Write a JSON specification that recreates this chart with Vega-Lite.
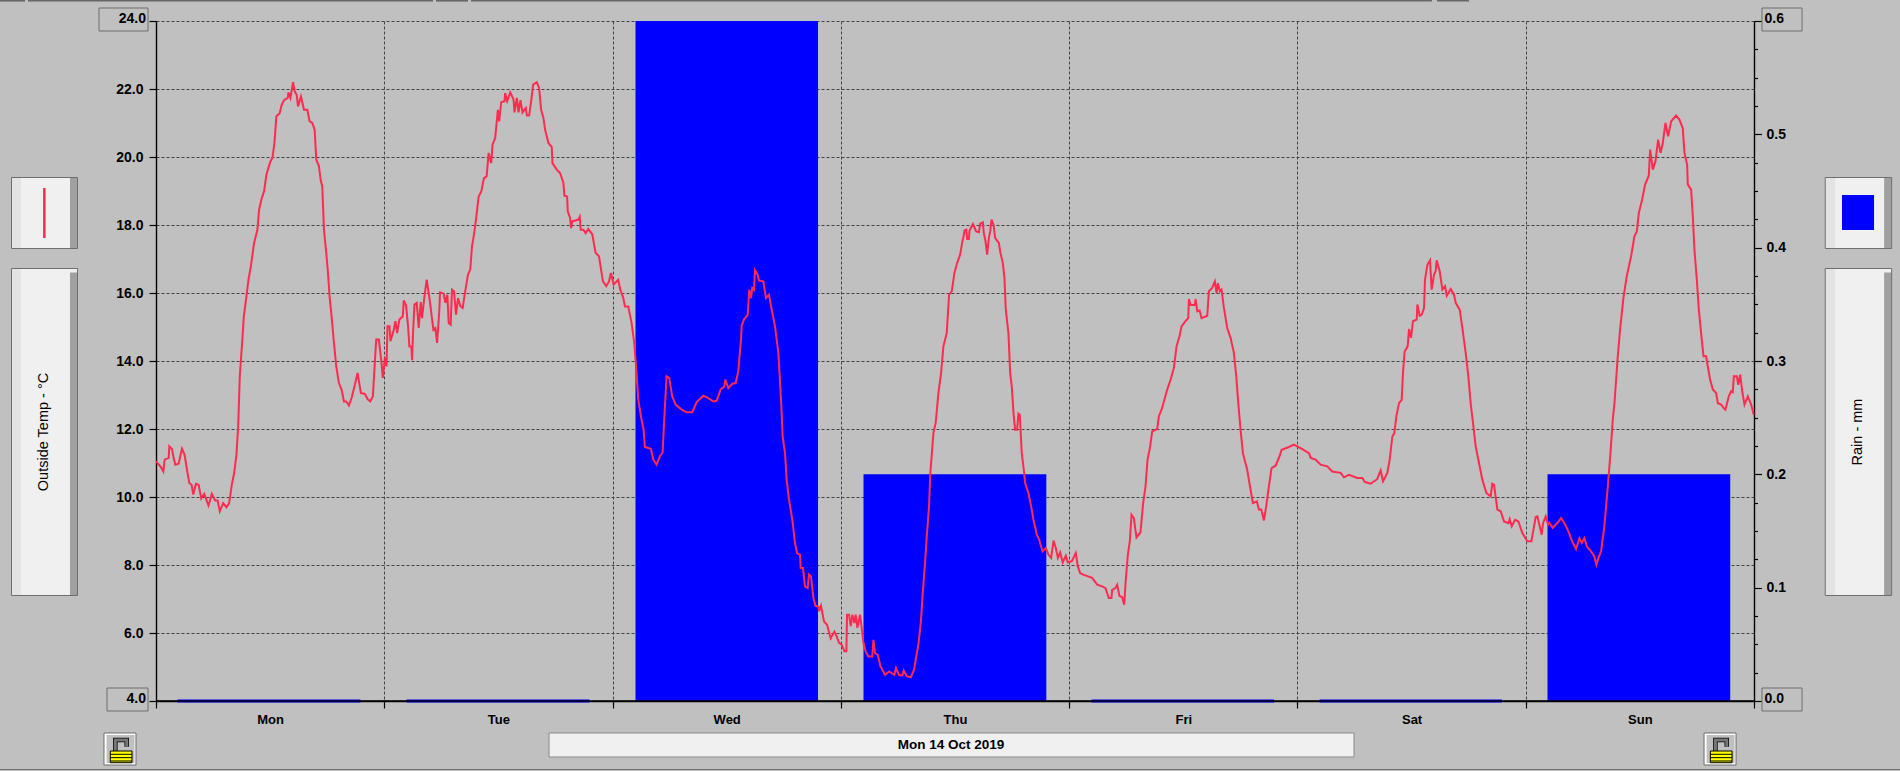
{"$schema":"https://vega.github.io/schema/vega-lite/v6.json","width":1598,"height":680,"autosize":"none","padding":{"left":156,"top":21,"right":146,"bottom":70},"background":"#c0c0c0","config":{"view":{"stroke":null},"font":"Liberation Sans"},
"datasets":{"rain":[{"day":"Mon","start":2.26,"end":21.5,"rain":0},{"day":"Tue","start":26.34,"end":45.58,"rain":0},{"day":"Wed","start":50.41,"end":69.6,"rain":0.6},{"day":"Thu","start":74.38,"end":93.6,"rain":0.2},{"day":"Fri","start":98.35,"end":117.55,"rain":0},{"day":"Sat","start":122.32,"end":141.5,"rain":0},{"day":"Sun","start":146.29,"end":165.5,"rain":0.2}],
"temperature":[{"t":0,"temp":11.05},{"t":0.52,"temp":10.88},{"t":0.77,"temp":10.75},{"t":0.91,"temp":11.1},{"t":1.33,"temp":11.15},{"t":1.4,"temp":11.49},{"t":1.68,"temp":11.41},{"t":1.82,"temp":11.2},{"t":2.03,"temp":10.95},{"t":2.38,"temp":10.98},{"t":2.73,"temp":11.42},{"t":3,"temp":11.25},{"t":3.29,"temp":10.75},{"t":3.5,"temp":10.41},{"t":3.74,"temp":10.36},{"t":3.92,"temp":10.07},{"t":4.2,"temp":10.39},{"t":4.48,"temp":10.36},{"t":4.76,"temp":9.96},{"t":5.07,"temp":10.09},{"t":5.52,"temp":9.75},{"t":5.87,"temp":10.09},{"t":6.22,"temp":9.9},{"t":6.47,"temp":9.9},{"t":6.71,"temp":9.58},{"t":7.06,"temp":9.82},{"t":7.41,"temp":9.7},{"t":7.69,"temp":9.82},{"t":7.97,"temp":10.36},{"t":8.22,"temp":10.71},{"t":8.46,"temp":11.25},{"t":8.64,"temp":12.08},{"t":8.81,"temp":13.55},{"t":9.09,"temp":14.68},{"t":9.23,"temp":15.31},{"t":9.51,"temp":15.9},{"t":9.72,"temp":16.39},{"t":9.97,"temp":16.78},{"t":10.31,"temp":17.47},{"t":10.66,"temp":17.86},{"t":10.84,"temp":18.45},{"t":11.08,"temp":18.75},{"t":11.36,"temp":18.99},{"t":11.61,"temp":19.48},{"t":11.82,"temp":19.68},{"t":12.03,"temp":19.87},{"t":12.24,"temp":19.97},{"t":12.45,"temp":20.41},{"t":12.66,"temp":21.2},{"t":13,"temp":21.29},{"t":13.22,"temp":21.54},{"t":13.46,"temp":21.67},{"t":13.85,"temp":21.74},{"t":13.92,"temp":21.9},{"t":14.13,"temp":21.74},{"t":14.41,"temp":22.2},{"t":14.58,"temp":21.93},{"t":14.79,"temp":21.83},{"t":14.93,"temp":21.49},{"t":15.24,"temp":21.78},{"t":15.56,"temp":21.39},{"t":15.91,"temp":21.39},{"t":16.15,"temp":21.05},{"t":16.43,"temp":21},{"t":16.68,"temp":20.8},{"t":16.85,"temp":19.92},{"t":17.13,"temp":19.73},{"t":17.31,"temp":19.33},{"t":17.48,"temp":19.14},{"t":17.66,"temp":17.86},{"t":17.9,"temp":17.18},{"t":18.08,"temp":16.59},{"t":18.25,"temp":15.9},{"t":18.46,"temp":15.31},{"t":18.71,"temp":14.53},{"t":18.95,"temp":13.84},{"t":19.23,"temp":13.35},{"t":19.51,"temp":13.16},{"t":19.76,"temp":12.81},{"t":20,"temp":12.81},{"t":20.28,"temp":12.69},{"t":20.56,"temp":12.91},{"t":20.91,"temp":13.3},{"t":21.19,"temp":13.65},{"t":21.54,"temp":13.06},{"t":21.96,"temp":13.03},{"t":22.24,"temp":12.88},{"t":22.52,"temp":12.81},{"t":22.8,"temp":12.96},{"t":22.94,"temp":13.65},{"t":23.15,"temp":14.63},{"t":23.43,"temp":14.63},{"t":23.67,"temp":14.04},{"t":23.85,"temp":13.5},{"t":24.06,"temp":14.1},{"t":24.23,"temp":13.84},{"t":24.34,"temp":15.02},{"t":24.55,"temp":15.02},{"t":24.65,"temp":14.58},{"t":25,"temp":14.92},{"t":25.17,"temp":15.17},{"t":25.35,"temp":14.82},{"t":25.59,"temp":15.22},{"t":25.94,"temp":15.31},{"t":26.05,"temp":15.78},{"t":26.29,"temp":15.63},{"t":26.5,"temp":15.02},{"t":26.64,"temp":14.43},{"t":26.85,"temp":14.43},{"t":26.92,"temp":14.02},{"t":27.03,"temp":14.87},{"t":27.17,"temp":15.66},{"t":27.41,"temp":15.71},{"t":27.62,"temp":14.97},{"t":27.83,"temp":15.73},{"t":27.97,"temp":15.26},{"t":28.18,"temp":15.8},{"t":28.46,"temp":16.39},{"t":28.67,"temp":16},{"t":28.88,"temp":15.56},{"t":29.16,"temp":14.92},{"t":29.37,"temp":14.97},{"t":29.55,"temp":14.53},{"t":29.79,"temp":15.51},{"t":29.86,"temp":16.02},{"t":30.24,"temp":15.98},{"t":30.42,"temp":15.71},{"t":30.63,"temp":15.95},{"t":30.77,"temp":15.12},{"t":30.98,"temp":15.07},{"t":31.12,"temp":16.1},{"t":31.33,"temp":16.05},{"t":31.54,"temp":15.36},{"t":31.75,"temp":15.85},{"t":32,"temp":15.61},{"t":32.24,"temp":15.56},{"t":32.45,"temp":15.95},{"t":32.8,"temp":16.54},{"t":33.04,"temp":16.69},{"t":33.22,"temp":17.37},{"t":33.43,"temp":17.72},{"t":33.64,"temp":18.16},{"t":33.92,"temp":18.84},{"t":34.2,"temp":18.99},{"t":34.48,"temp":19.38},{"t":34.76,"temp":19.43},{"t":34.97,"temp":20.12},{"t":35.24,"temp":19.82},{"t":35.38,"temp":20.36},{"t":35.66,"temp":20.56},{"t":35.94,"temp":21.39},{"t":36.08,"temp":21.05},{"t":36.29,"temp":21.61},{"t":36.64,"temp":21.64},{"t":36.71,"temp":21.88},{"t":36.92,"temp":21.64},{"t":37.24,"temp":21.9},{"t":37.59,"temp":21.69},{"t":37.69,"temp":21.31},{"t":37.94,"temp":21.74},{"t":38.11,"temp":21.31},{"t":38.32,"temp":21.67},{"t":38.53,"temp":21.31},{"t":38.88,"temp":21.44},{"t":38.99,"temp":21.22},{"t":39.23,"temp":21.22},{"t":39.44,"temp":21.64},{"t":39.65,"temp":22.13},{"t":40.03,"temp":22.2},{"t":40.28,"temp":22.03},{"t":40.49,"temp":21.39},{"t":40.73,"temp":21.15},{"t":40.91,"temp":20.8},{"t":41.26,"temp":20.41},{"t":41.61,"temp":20.29},{"t":41.68,"temp":19.82},{"t":42.13,"temp":19.63},{"t":42.48,"temp":19.53},{"t":42.83,"temp":19.24},{"t":42.94,"temp":18.86},{"t":43.22,"temp":18.84},{"t":43.29,"temp":18.4},{"t":43.53,"temp":18.21},{"t":43.64,"temp":17.91},{"t":43.78,"temp":18.11},{"t":44.41,"temp":18.16},{"t":44.55,"temp":18.24},{"t":44.65,"temp":17.86},{"t":44.93,"temp":17.86},{"t":45.17,"temp":17.76},{"t":45.45,"temp":17.88},{"t":45.87,"temp":17.72},{"t":46.22,"temp":17.18},{"t":46.57,"temp":17.08},{"t":46.99,"temp":16.34},{"t":47.34,"temp":16.2},{"t":47.62,"temp":16.34},{"t":47.83,"temp":16.59},{"t":48.11,"temp":16.25},{"t":48.6,"temp":16.39},{"t":48.81,"temp":16.1},{"t":49.13,"temp":15.85},{"t":49.3,"temp":15.6},{"t":49.65,"temp":15.6},{"t":50,"temp":15.12},{"t":50.28,"temp":14.53},{"t":50.52,"temp":13.65},{"t":50.7,"temp":12.86},{"t":51.05,"temp":12.27},{"t":51.26,"temp":11.98},{"t":51.4,"temp":11.47},{"t":52.03,"temp":11.42},{"t":52.28,"temp":11.1},{"t":52.63,"temp":10.95},{"t":52.98,"temp":11.2},{"t":53.26,"temp":11.31},{"t":53.43,"temp":12.27},{"t":53.68,"temp":13.55},{"t":53.96,"temp":13.5},{"t":54.27,"temp":12.96},{"t":54.63,"temp":12.72},{"t":55.26,"temp":12.57},{"t":55.78,"temp":12.49},{"t":56.38,"temp":12.49},{"t":56.84,"temp":12.79},{"t":57.54,"temp":12.98},{"t":58.06,"temp":12.91},{"t":58.59,"temp":12.81},{"t":58.94,"temp":12.83},{"t":59.36,"temp":13.16},{"t":59.75,"temp":13.25},{"t":59.85,"temp":13.45},{"t":60.17,"temp":13.2},{"t":60.59,"temp":13.33},{"t":60.94,"temp":13.35},{"t":61.22,"temp":13.7},{"t":61.5,"temp":14.63},{"t":61.57,"temp":15.04},{"t":61.82,"temp":15.22},{"t":62.2,"temp":15.36},{"t":62.38,"temp":16.1},{"t":62.55,"temp":15.85},{"t":62.69,"temp":16.15},{"t":62.87,"temp":16.1},{"t":62.97,"temp":16.67},{"t":63.25,"temp":16.54},{"t":63.39,"temp":16.37},{"t":63.85,"temp":16.34},{"t":64.13,"temp":15.85},{"t":64.44,"temp":15.95},{"t":64.73,"temp":15.51},{"t":65.08,"temp":15.02},{"t":65.43,"temp":14.24},{"t":65.71,"temp":12.86},{"t":65.88,"temp":11.78},{"t":66.13,"temp":11.29},{"t":66.3,"temp":10.51},{"t":66.55,"temp":9.92},{"t":66.9,"temp":9.33},{"t":67.18,"temp":8.65},{"t":67.39,"temp":8.35},{"t":67.71,"temp":8.3},{"t":67.78,"temp":7.91},{"t":68.02,"temp":7.91},{"t":68.23,"temp":7.37},{"t":68.51,"temp":7.32},{"t":68.65,"temp":7.72},{"t":68.86,"temp":7.67},{"t":69.11,"temp":7.03},{"t":69.35,"temp":6.8},{"t":69.63,"temp":6.78},{"t":69.7,"temp":6.64},{"t":69.91,"temp":6.8},{"t":70.23,"temp":6.34},{"t":70.55,"temp":6.24},{"t":70.93,"temp":5.84},{"t":71.32,"temp":6.04},{"t":71.56,"temp":5.9},{"t":71.81,"temp":5.71},{"t":72.09,"temp":5.66},{"t":72.37,"temp":5.46},{"t":72.58,"temp":5.46},{"t":72.65,"temp":6.54},{"t":72.86,"temp":6.54},{"t":73.04,"temp":6.2},{"t":73.21,"temp":6.54},{"t":73.42,"temp":6.29},{"t":73.56,"temp":6.54},{"t":73.74,"temp":6.15},{"t":74.02,"temp":6.54},{"t":74.19,"temp":6.15},{"t":74.37,"temp":5.71},{"t":74.61,"temp":5.46},{"t":74.89,"temp":5.31},{"t":75.31,"temp":5.31},{"t":75.42,"temp":5.8},{"t":75.6,"temp":5.41},{"t":75.88,"temp":5.36},{"t":76.16,"temp":5.02},{"t":76.65,"temp":4.77},{"t":77.07,"temp":4.87},{"t":77.63,"temp":4.77},{"t":77.8,"temp":4.97},{"t":78.12,"temp":4.76},{"t":78.47,"temp":4.76},{"t":78.61,"temp":4.9},{"t":78.93,"temp":4.73},{"t":79.35,"temp":4.7},{"t":79.7,"temp":4.92},{"t":79.87,"temp":5.22},{"t":80.15,"temp":5.66},{"t":80.4,"temp":6.29},{"t":80.61,"temp":7.18},{"t":80.85,"temp":8.06},{"t":81.03,"temp":8.84},{"t":81.27,"temp":9.72},{"t":81.41,"temp":10.71},{"t":81.73,"temp":11.88},{"t":81.97,"temp":12.18},{"t":82.26,"temp":13.06},{"t":82.54,"temp":13.65},{"t":82.78,"temp":14.43},{"t":83.13,"temp":14.82},{"t":83.38,"temp":15.95},{"t":83.66,"temp":16.05},{"t":83.94,"temp":16.59},{"t":84.22,"temp":16.88},{"t":84.54,"temp":17.13},{"t":84.78,"temp":17.52},{"t":84.9,"temp":17.67},{"t":85,"temp":17.84},{"t":85.18,"temp":17.86},{"t":85.28,"temp":17.59},{"t":85.46,"temp":17.59},{"t":85.53,"temp":17.84},{"t":85.88,"temp":18.03},{"t":86.23,"temp":17.81},{"t":86.51,"temp":17.79},{"t":86.65,"temp":18.04},{"t":86.93,"temp":18.08},{"t":87.03,"temp":17.76},{"t":87.21,"temp":17.52},{"t":87.38,"temp":17.13},{"t":87.56,"temp":17.62},{"t":87.7,"temp":17.81},{"t":87.84,"temp":18.16},{"t":88.05,"temp":18.01},{"t":88.22,"temp":17.62},{"t":88.4,"temp":17.55},{"t":88.61,"temp":17.47},{"t":88.78,"temp":17.18},{"t":89.03,"temp":16.88},{"t":89.2,"temp":16.44},{"t":89.34,"temp":15.51},{"t":89.62,"temp":14.82},{"t":89.8,"temp":13.65},{"t":89.97,"temp":13.25},{"t":90.15,"temp":12.47},{"t":90.32,"temp":11.98},{"t":90.53,"temp":11.98},{"t":90.67,"temp":12.45},{"t":90.81,"temp":12.42},{"t":91.02,"temp":11.29},{"t":91.27,"temp":10.71},{"t":91.37,"temp":10.41},{"t":91.72,"temp":10.12},{"t":92,"temp":9.73},{"t":92.25,"temp":9.33},{"t":92.6,"temp":8.89},{"t":92.85,"temp":8.75},{"t":93.2,"temp":8.4},{"t":93.55,"temp":8.5},{"t":93.83,"temp":8.3},{"t":94.11,"temp":8.21},{"t":94.36,"temp":8.72},{"t":94.6,"temp":8.5},{"t":94.81,"temp":8.21},{"t":95.05,"temp":8.37},{"t":95.33,"temp":8.08},{"t":95.65,"temp":8.27},{"t":95.86,"temp":8.08},{"t":96.28,"temp":8.11},{"t":96.7,"temp":8.35},{"t":96.91,"temp":7.96},{"t":97.16,"temp":7.76},{"t":97.54,"temp":7.71},{"t":98.42,"temp":7.62},{"t":98.95,"temp":7.42},{"t":99.47,"temp":7.37},{"t":99.82,"temp":7.32},{"t":100.17,"temp":7.03},{"t":100.45,"temp":7.03},{"t":100.52,"temp":7.27},{"t":100.87,"temp":7.32},{"t":101.05,"temp":7.42},{"t":101.29,"temp":7.09},{"t":101.58,"temp":7.05},{"t":101.79,"temp":6.83},{"t":101.93,"temp":7.47},{"t":102.17,"temp":8.3},{"t":102.38,"temp":8.7},{"t":102.56,"temp":9.48},{"t":102.8,"temp":9.38},{"t":103.08,"temp":8.81},{"t":103.5,"temp":8.96},{"t":103.78,"temp":9.82},{"t":104.03,"temp":10.31},{"t":104.24,"temp":11.1},{"t":104.49,"temp":11.44},{"t":104.73,"temp":11.93},{"t":105.26,"temp":12},{"t":105.43,"temp":12.37},{"t":105.78,"temp":12.62},{"t":105.96,"temp":12.81},{"t":106.31,"temp":13.16},{"t":106.66,"temp":13.45},{"t":107.01,"temp":13.79},{"t":107.29,"temp":14.43},{"t":107.6,"temp":14.73},{"t":107.82,"temp":15.02},{"t":108.31,"temp":15.2},{"t":108.52,"temp":15.26},{"t":108.59,"temp":15.82},{"t":108.76,"temp":15.65},{"t":109.22,"temp":15.65},{"t":109.29,"temp":15.82},{"t":109.47,"temp":15.46},{"t":109.71,"temp":15.49},{"t":109.92,"temp":15.26},{"t":110.52,"temp":15.33},{"t":110.69,"temp":16.05},{"t":111.04,"temp":16.15},{"t":111.32,"temp":16.34},{"t":111.5,"temp":16},{"t":111.64,"temp":16.29},{"t":111.85,"temp":16.05},{"t":112.02,"temp":16.1},{"t":112.27,"temp":15.56},{"t":112.62,"temp":14.97},{"t":112.97,"temp":14.68},{"t":113.32,"temp":14.24},{"t":113.57,"temp":13.55},{"t":113.78,"temp":12.76},{"t":114.02,"temp":11.98},{"t":114.27,"temp":11.29},{"t":114.72,"temp":10.8},{"t":115.07,"temp":10.22},{"t":115.32,"temp":9.82},{"t":115.74,"temp":9.87},{"t":115.95,"temp":9.63},{"t":116.2,"temp":9.63},{"t":116.48,"temp":9.31},{"t":116.72,"temp":9.73},{"t":117,"temp":10.31},{"t":117.28,"temp":10.85},{"t":117.7,"temp":10.92},{"t":118.12,"temp":11.2},{"t":118.34,"temp":11.39},{"t":119.11,"temp":11.47},{"t":119.63,"temp":11.54},{"t":120.51,"temp":11.41},{"t":121.21,"temp":11.29},{"t":121.39,"temp":11.15},{"t":121.91,"temp":11.1},{"t":122.44,"temp":10.95},{"t":123.14,"temp":10.9},{"t":123.66,"temp":10.75},{"t":124.54,"temp":10.71},{"t":124.89,"temp":10.58},{"t":125.42,"temp":10.65},{"t":126.29,"temp":10.56},{"t":126.82,"temp":10.56},{"t":127.1,"temp":10.44},{"t":127.7,"temp":10.39},{"t":128.4,"temp":10.53},{"t":128.75,"temp":10.78},{"t":129,"temp":10.46},{"t":129.45,"temp":10.71},{"t":129.7,"temp":11.1},{"t":129.98,"temp":11.78},{"t":130.19,"temp":11.88},{"t":130.4,"temp":12.37},{"t":130.68,"temp":12.76},{"t":130.96,"temp":12.86},{"t":131.1,"temp":13.65},{"t":131.27,"temp":14.28},{"t":131.59,"temp":14.43},{"t":131.73,"temp":14.94},{"t":131.94,"temp":14.68},{"t":132.15,"temp":15.17},{"t":132.54,"temp":15.22},{"t":132.61,"temp":15.66},{"t":132.85,"temp":15.33},{"t":133.06,"temp":15.36},{"t":133.31,"temp":15.56},{"t":133.41,"temp":16.39},{"t":133.66,"temp":16.83},{"t":133.94,"temp":16.96},{"t":134.11,"temp":16.1},{"t":134.36,"temp":16.54},{"t":134.53,"temp":16.64},{"t":134.64,"temp":16.96},{"t":134.96,"temp":16.64},{"t":135.24,"temp":16.1},{"t":135.52,"temp":16.2},{"t":135.7,"temp":15.92},{"t":136.11,"temp":16.12},{"t":136.46,"temp":15.95},{"t":136.64,"temp":15.71},{"t":137.06,"temp":15.51},{"t":137.34,"temp":14.97},{"t":137.69,"temp":14.24},{"t":137.97,"temp":13.55},{"t":138.21,"temp":12.76},{"t":138.46,"temp":12.18},{"t":138.74,"temp":11.49},{"t":139.09,"temp":11},{"t":139.44,"temp":10.51},{"t":139.86,"temp":10.12},{"t":140.32,"temp":10.02},{"t":140.49,"temp":10.39},{"t":140.67,"temp":10.36},{"t":141.02,"temp":9.63},{"t":141.37,"temp":9.58},{"t":141.72,"temp":9.28},{"t":142.18,"temp":9.23},{"t":142.32,"temp":9.35},{"t":142.53,"temp":9.14},{"t":142.88,"temp":9.33},{"t":143.23,"temp":9.28},{"t":143.65,"temp":8.94},{"t":144.17,"temp":8.7},{"t":144.6,"temp":8.7},{"t":145.05,"temp":9.41},{"t":145.23,"temp":9.43},{"t":145.68,"temp":8.89},{"t":145.82,"temp":9.23},{"t":146.1,"temp":9.43},{"t":146.35,"temp":9.19},{"t":146.49,"temp":9.24},{"t":146.84,"temp":9.09},{"t":147.37,"temp":9.25},{"t":147.72,"temp":9.38},{"t":148.14,"temp":9.19},{"t":148.49,"temp":8.99},{"t":148.87,"temp":8.7},{"t":149.29,"temp":8.47},{"t":149.65,"temp":8.79},{"t":149.89,"temp":8.65},{"t":150.17,"temp":8.79},{"t":150.42,"temp":8.55},{"t":150.87,"temp":8.4},{"t":151.22,"temp":8.25},{"t":151.43,"temp":8.01},{"t":151.64,"temp":8.2},{"t":151.92,"temp":8.4},{"t":152.27,"temp":9.14},{"t":152.63,"temp":10.31},{"t":152.91,"temp":11.29},{"t":153.15,"temp":12.27},{"t":153.33,"temp":12.76},{"t":153.68,"temp":14.14},{"t":153.92,"temp":14.92},{"t":154.27,"temp":15.85},{"t":154.62,"temp":16.49},{"t":155.08,"temp":17.08},{"t":155.43,"temp":17.67},{"t":155.68,"temp":17.81},{"t":155.89,"temp":18.35},{"t":156.24,"temp":18.75},{"t":156.55,"temp":19.19},{"t":156.94,"temp":19.45},{"t":157.08,"temp":20.22},{"t":157.36,"temp":19.63},{"t":157.64,"temp":19.87},{"t":157.92,"temp":20.51},{"t":158.17,"temp":20.12},{"t":158.41,"temp":20.41},{"t":158.69,"temp":21},{"t":158.97,"temp":20.61},{"t":159.29,"temp":21.05},{"t":159.81,"temp":21.22},{"t":160.16,"temp":21.1},{"t":160.51,"temp":20.85},{"t":160.69,"temp":20.12},{"t":160.97,"temp":19.77},{"t":161.04,"temp":19.19},{"t":161.39,"temp":19.04},{"t":161.57,"temp":18.25},{"t":161.74,"temp":17.27},{"t":161.99,"temp":16.39},{"t":162.2,"temp":15.51},{"t":162.44,"temp":14.82},{"t":162.69,"temp":14.14},{"t":162.97,"temp":14.14},{"t":163.14,"temp":13.84},{"t":163.39,"temp":13.45},{"t":163.67,"temp":13.16},{"t":164.02,"temp":13.06},{"t":164.2,"temp":12.76},{"t":164.55,"temp":12.72},{"t":164.79,"temp":12.62},{"t":165,"temp":12.57},{"t":165.35,"temp":12.96},{"t":165.6,"temp":13.11},{"t":165.77,"temp":13.08},{"t":165.88,"temp":13.55},{"t":166.2,"temp":13.55},{"t":166.34,"temp":13.3},{"t":166.55,"temp":13.6},{"t":166.76,"temp":13.11},{"t":167,"temp":12.72},{"t":167.35,"temp":12.96},{"t":167.7,"temp":12.72},{"t":167.98,"temp":12.42}]},
"layer":[
{"data":{"name":"rain"},"mark":{"type":"rect","color":"#0000ff","stroke":"#0000ff"},"encoding":{"strokeWidth":{"condition":{"test":"datum.rain==0","value":3},"value":0},"x":{"field":"start","type":"quantitative","scale":{"domain":[0,168],"nice":false,"zero":false},"axis":{"title":null,"values":[0,12,24,36,48,60,72,84,96,108,120,132,144,156,168],"labelExpr":"datum.value%24==12?['Mon','Tue','Wed','Thu','Fri','Sat','Sun'][floor(datum.value/24)]:''","labelFont":"Liberation Sans","labelFontWeight":"bold","labelFontSize":13,"labelColor":"#000000","labelPadding":5,"labelOverlap":false,"labelFlush":false,"tickSize":7,"tickColor":"#000000","tickWidth":1.2,"tickOpacity":{"expr":"datum.value%24==0?1:0"},"domain":true,"domainColor":"#000000","domainWidth":1.4,"grid":true,"gridColor":"#444444","gridWidth":1,"gridDash":[3,2],"gridOpacity":{"expr":"datum.value%24==0&&datum.value>0&&datum.value<168?1:0"}}},"x2":{"field":"end"},"y":{"field":"rain","type":"quantitative","scale":{"domain":[0,0.6],"nice":false},"axis":{"title":null,"orient":"right","values":[0,0.025,0.05,0.075,0.1,0.125,0.15,0.175,0.2,0.225,0.25,0.275,0.3,0.325,0.35,0.375,0.4,0.425,0.45,0.475,0.5,0.525,0.55,0.575,0.6],"labelExpr":"round(datum.value*1000)%100==0?format(datum.value,'.1f'):''","labelFont":"Liberation Sans","labelFontWeight":"bold","labelFontSize":14,"labelColor":"#000000","labelPadding":{"expr":"datum.value==0||datum.value==0.6?2.5:4.5"},"labelOffset":{"expr":"datum.value==0||datum.value==0.6?-3:0"},"labelOverlap":false,"labelFlush":false,"labelBaseline":"middle","tickSize":{"expr":"round(datum.value*1000)%100==0?7.5:3.5"},"tickColor":"#000000","tickWidth":1.2,"domain":true,"domainColor":"#000000","domainWidth":1.4,"grid":false}},"y2":{"datum":0}}},
{"layer":[
{"data":{"values":[{"part":"axis"}]},"mark":{"type":"rule","color":"#000000","strokeWidth":1.4},"encoding":{"x":{"datum":0,"type":"quantitative"},"x2":{"datum":168},"y":{"datum":4,"type":"quantitative","scale":{"domain":[4,24],"nice":false,"zero":false},"axis":{"title":null,"values":[4,4.5,5,5.5,6,6.5,7,7.5,8,8.5,9,9.5,10,10.5,11,11.5,12,12.5,13,13.5,14,14.5,15,15.5,16,16.5,17,17.5,18,18.5,19,19.5,20,20.5,21,21.5,22,22.5,23,23.5,24],"labelExpr":"datum.value%2==0?format(datum.value,'.1f'):''","labelFont":"Liberation Sans","labelFontWeight":"bold","labelFontSize":14,"labelColor":"#000000","labelPadding":{"expr":"datum.value==4||datum.value==24?3.5:6"},"labelOffset":{"expr":"datum.value==4||datum.value==24?-3:0"},"labelOverlap":false,"labelFlush":false,"labelBaseline":"middle","tickSize":{"expr":"datum.value%2==0?7:3.5"},"tickColor":"#000000","tickWidth":1.2,"domain":true,"domainColor":"#000000","domainWidth":1.4,"grid":true,"gridColor":"#444444","gridWidth":1,"gridDash":[3,2],"gridOpacity":{"expr":"datum.value%2==0&&datum.value>4?1:0"}}}}},
{"data":{"values":[{"part":"tab"}]},"mark":{"type":"rule","color":"#666666","strokeWidth":2},"encoding":{"x":{"datum":-16.4,"type":"quantitative"},"x2":{"datum":-13.77},"y":{"datum":24.6,"type":"quantitative"}}},
{"data":{"values":[{"part":"tab"}]},"mark":{"type":"rule","color":"#666666","strokeWidth":2},"encoding":{"x":{"datum":-13.46,"type":"quantitative"},"x2":{"datum":29.12},"y":{"datum":24.6,"type":"quantitative"}}},
{"data":{"values":[{"part":"tab"}]},"mark":{"type":"rule","color":"#666666","strokeWidth":2},"encoding":{"x":{"datum":29.44,"type":"quantitative"},"x2":{"datum":32.8},"y":{"datum":24.6,"type":"quantitative"}}},
{"data":{"values":[{"part":"tab"}]},"mark":{"type":"rule","color":"#666666","strokeWidth":2},"encoding":{"x":{"datum":33.12,"type":"quantitative"},"x2":{"datum":134.14},"y":{"datum":24.6,"type":"quantitative"}}},
{"data":{"values":[{"part":"tab"}]},"mark":{"type":"rule","color":"#666666","strokeWidth":2},"encoding":{"x":{"datum":134.67,"type":"quantitative"},"x2":{"datum":138.04},"y":{"datum":24.6,"type":"quantitative"}}},
{"data":{"values":[{"part":"bottom"}]},"mark":{"type":"rule","color":"#6e6e6e","strokeWidth":1},"encoding":{"x":{"datum":-16.4,"type":"quantitative"},"x2":{"datum":183.4},"y":{"datum":1.985,"type":"quantitative"}}},
{"data":{"values":[{"part":"box"}]},"mark":{"type":"rect","fill":null,"stroke":"#6e6e6e","strokeWidth":1},"encoding":{"x":{"datum":-5.99,"type":"quantitative"},"x2":{"datum":-0.84},"y":{"datum":24.382,"type":"quantitative"},"y2":{"datum":23.706}}},
{"data":{"values":[{"part":"box"}]},"mark":{"type":"rect","fill":null,"stroke":"#6e6e6e","strokeWidth":1},"encoding":{"x":{"datum":-5.15,"type":"quantitative"},"x2":{"datum":-0.84},"y":{"datum":4.382,"type":"quantitative"},"y2":{"datum":3.706}}},
{"data":{"values":[{"part":"box"}]},"mark":{"type":"rect","fill":null,"stroke":"#6e6e6e","strokeWidth":1},"encoding":{"x":{"datum":168.84,"type":"quantitative"},"x2":{"datum":173.05},"y":{"datum":24.382,"type":"quantitative"},"y2":{"datum":23.706}}},
{"data":{"values":[{"part":"box"}]},"mark":{"type":"rect","fill":null,"stroke":"#6e6e6e","strokeWidth":1},"encoding":{"x":{"datum":168.84,"type":"quantitative"},"x2":{"datum":173.05},"y":{"datum":4.382,"type":"quantitative"},"y2":{"datum":3.706}}},
{"data":{"values":[{"part":"button"}]},"mark":{"type":"rect","fill":"#f0f0f0"},"encoding":{"x":{"datum":-15.19,"type":"quantitative"},"x2":{"datum":-8.25},"y":{"datum":19.397,"type":"quantitative"},"y2":{"datum":17.309}}},
{"data":{"values":[{"part":"button"}]},"mark":{"type":"rect","fill":"#e3e3e3"},"encoding":{"x":{"datum":-15.19,"type":"quantitative"},"x2":{"datum":-14.19},"y":{"datum":19.397,"type":"quantitative"},"y2":{"datum":17.309}}},
{"data":{"values":[{"part":"button"}]},"mark":{"type":"rect","fill":"#a0a0a0"},"encoding":{"x":{"datum":-9.04,"type":"quantitative"},"x2":{"datum":-8.25},"y":{"datum":19.397,"type":"quantitative"},"y2":{"datum":17.309}}},
{"data":{"values":[{"part":"button"}]},"mark":{"type":"rect","fill":null,"stroke":"#6e6e6e","strokeWidth":1},"encoding":{"x":{"datum":-15.19,"type":"quantitative"},"x2":{"datum":-8.25},"y":{"datum":19.397,"type":"quantitative"},"y2":{"datum":17.309}}},
{"data":{"values":[{"part":"button"}]},"mark":{"type":"rect","fill":"#f0f0f0"},"encoding":{"x":{"datum":-15.19,"type":"quantitative"},"x2":{"datum":-8.25},"y":{"datum":16.721,"type":"quantitative"},"y2":{"datum":7.103}}},
{"data":{"values":[{"part":"button"}]},"mark":{"type":"rect","fill":"#e3e3e3"},"encoding":{"x":{"datum":-15.19,"type":"quantitative"},"x2":{"datum":-14.19},"y":{"datum":16.721,"type":"quantitative"},"y2":{"datum":7.103}}},
{"data":{"values":[{"part":"button"}]},"mark":{"type":"rect","fill":"#a0a0a0"},"encoding":{"x":{"datum":-9.04,"type":"quantitative"},"x2":{"datum":-8.25},"y":{"datum":16.6,"type":"quantitative"},"y2":{"datum":7.103}}},
{"data":{"values":[{"part":"button"}]},"mark":{"type":"rect","fill":null,"stroke":"#6e6e6e","strokeWidth":1},"encoding":{"x":{"datum":-15.19,"type":"quantitative"},"x2":{"datum":-8.25},"y":{"datum":16.721,"type":"quantitative"},"y2":{"datum":7.103}}},
{"data":{"values":[{"part":"button"}]},"mark":{"type":"rect","fill":"#f0f0f0"},"encoding":{"x":{"datum":175.49,"type":"quantitative"},"x2":{"datum":182.47},"y":{"datum":19.397,"type":"quantitative"},"y2":{"datum":17.309}}},
{"data":{"values":[{"part":"button"}]},"mark":{"type":"rect","fill":"#e3e3e3"},"encoding":{"x":{"datum":175.49,"type":"quantitative"},"x2":{"datum":176.52},"y":{"datum":19.397,"type":"quantitative"},"y2":{"datum":17.309}}},
{"data":{"values":[{"part":"button"}]},"mark":{"type":"rect","fill":"#a0a0a0"},"encoding":{"x":{"datum":181.68,"type":"quantitative"},"x2":{"datum":182.47},"y":{"datum":19.397,"type":"quantitative"},"y2":{"datum":17.309}}},
{"data":{"values":[{"part":"button"}]},"mark":{"type":"rect","fill":null,"stroke":"#6e6e6e","strokeWidth":1},"encoding":{"x":{"datum":175.49,"type":"quantitative"},"x2":{"datum":182.47},"y":{"datum":19.397,"type":"quantitative"},"y2":{"datum":17.309}}},
{"data":{"values":[{"part":"button"}]},"mark":{"type":"rect","fill":"#f0f0f0"},"encoding":{"x":{"datum":175.49,"type":"quantitative"},"x2":{"datum":182.47},"y":{"datum":16.721,"type":"quantitative"},"y2":{"datum":7.103}}},
{"data":{"values":[{"part":"button"}]},"mark":{"type":"rect","fill":"#e3e3e3"},"encoding":{"x":{"datum":175.49,"type":"quantitative"},"x2":{"datum":176.52},"y":{"datum":16.721,"type":"quantitative"},"y2":{"datum":7.103}}},
{"data":{"values":[{"part":"button"}]},"mark":{"type":"rect","fill":"#a0a0a0"},"encoding":{"x":{"datum":181.68,"type":"quantitative"},"x2":{"datum":182.47},"y":{"datum":16.6,"type":"quantitative"},"y2":{"datum":7.103}}},
{"data":{"values":[{"part":"button"}]},"mark":{"type":"rect","fill":null,"stroke":"#6e6e6e","strokeWidth":1},"encoding":{"x":{"datum":175.49,"type":"quantitative"},"x2":{"datum":182.47},"y":{"datum":16.721,"type":"quantitative"},"y2":{"datum":7.103}}},
{"data":{"values":[{"part":"legend"}]},"mark":{"type":"rect","fill":"#0000ff"},"encoding":{"x":{"datum":177.25,"type":"quantitative"},"x2":{"datum":180.62},"y":{"datum":18.882,"type":"quantitative"},"y2":{"datum":17.853}}},
{"data":{"values":[{"part":"legend"}]},"mark":{"type":"rule","color":"#ff2a4d","strokeWidth":2.5},"encoding":{"x":{"datum":-11.74,"type":"quantitative"},"y":{"datum":19.088,"type":"quantitative"},"y2":{"datum":17.618}}},
{"data":{"values":[{"part":"label"}]},"mark":{"type":"text","text":"Outside Temp - °C","angle":270,"font":"Liberation Sans","fontSize":14.5,"color":"#000000","align":"center","baseline":"middle"},"encoding":{"x":{"datum":-11.74,"type":"quantitative"},"y":{"datum":11.912,"type":"quantitative"}}},
{"data":{"values":[{"part":"label"}]},"mark":{"type":"text","text":"Rain - mm","angle":270,"font":"Liberation Sans","fontSize":14.5,"color":"#000000","align":"center","baseline":"middle"},"encoding":{"x":{"datum":178.98,"type":"quantitative"},"y":{"datum":11.912,"type":"quantitative"}}},
{"data":{"values":[{"part":"date"}]},"mark":{"type":"rect","fill":"#f0f0f0","stroke":"#8a8a8a","strokeWidth":1},"encoding":{"x":{"datum":41.32,"type":"quantitative"},"x2":{"datum":125.95},"y":{"datum":3.059,"type":"quantitative"},"y2":{"datum":2.353}}},
{"data":{"values":[{"part":"date"}]},"mark":{"type":"text","text":"Mon 14 Oct 2019","font":"Liberation Sans","fontWeight":"bold","fontSize":13.5,"color":"#000000","align":"center","baseline":"middle"},"encoding":{"x":{"datum":83.58,"type":"quantitative"},"y":{"datum":2.706,"type":"quantitative"}}},
{"data":{"values":[{"part":"lock"}]},"mark":{"type":"point","shape":"square","size":1024,"filled":true,"opacity":1,"fill":"#ffffff","stroke":"#6e6e6e","strokeWidth":1},"encoding":{"x":{"datum":-3.785,"type":"quantitative"},"y":{"datum":2.588,"type":"quantitative"}}},
{"data":{"values":[{"part":"lock"}]},"mark":{"type":"point","shape":"square","size":784,"filled":true,"opacity":1,"fill":"#c0c0c0"},"encoding":{"x":{"datum":-3.73,"type":"quantitative"},"y":{"datum":2.588,"type":"quantitative"}}},
{"data":{"values":[{"part":"lock"}]},"mark":{"type":"point","shape":"M-0.29 0.125L-0.29 -0.56L0.42 -0.56L0.42 -0.14","size":1024,"filled":false,"opacity":1,"stroke":"#000000","strokeWidth":4.5},"encoding":{"x":{"datum":-3.785,"type":"quantitative"},"y":{"datum":2.588,"type":"quantitative"}}},
{"data":{"values":[{"part":"lock"}]},"mark":{"type":"point","shape":"M-0.29 0.125L-0.29 -0.56L0.42 -0.56L0.42 -0.14","size":1024,"filled":false,"opacity":1,"stroke":"#777777","strokeWidth":3},"encoding":{"x":{"datum":-3.785,"type":"quantitative"},"y":{"datum":2.588,"type":"quantitative"}}},
{"data":{"values":[{"part":"lock"}]},"mark":{"type":"point","shape":"M-0.606 0.125H0.75V0.856H-0.606ZM-0.606 0.33H0.75M-0.606 0.54H0.75M-0.606 0.75H0.75","size":1024,"filled":true,"opacity":1,"fill":"#ffff00","stroke":"#000000","strokeWidth":1},"encoding":{"x":{"datum":-3.785,"type":"quantitative"},"y":{"datum":2.588,"type":"quantitative"}}},
{"data":{"values":[{"part":"lock"}]},"mark":{"type":"point","shape":"square","size":1024,"filled":true,"opacity":1,"fill":"#ffffff","stroke":"#6e6e6e","strokeWidth":1},"encoding":{"x":{"datum":164.43,"type":"quantitative"},"y":{"datum":2.588,"type":"quantitative"}}},
{"data":{"values":[{"part":"lock"}]},"mark":{"type":"point","shape":"square","size":784,"filled":true,"opacity":1,"fill":"#c0c0c0"},"encoding":{"x":{"datum":164.485,"type":"quantitative"},"y":{"datum":2.588,"type":"quantitative"}}},
{"data":{"values":[{"part":"lock"}]},"mark":{"type":"point","shape":"M-0.29 0.125L-0.29 -0.56L0.42 -0.56L0.42 -0.14","size":1024,"filled":false,"opacity":1,"stroke":"#000000","strokeWidth":4.5},"encoding":{"x":{"datum":164.43,"type":"quantitative"},"y":{"datum":2.588,"type":"quantitative"}}},
{"data":{"values":[{"part":"lock"}]},"mark":{"type":"point","shape":"M-0.29 0.125L-0.29 -0.56L0.42 -0.56L0.42 -0.14","size":1024,"filled":false,"opacity":1,"stroke":"#777777","strokeWidth":3},"encoding":{"x":{"datum":164.43,"type":"quantitative"},"y":{"datum":2.588,"type":"quantitative"}}},
{"data":{"values":[{"part":"lock"}]},"mark":{"type":"point","shape":"M-0.606 0.125H0.75V0.856H-0.606ZM-0.606 0.33H0.75M-0.606 0.54H0.75M-0.606 0.75H0.75","size":1024,"filled":true,"opacity":1,"fill":"#ffff00","stroke":"#000000","strokeWidth":1},"encoding":{"x":{"datum":164.43,"type":"quantitative"},"y":{"datum":2.588,"type":"quantitative"}}},
{"data":{"name":"temperature"},"mark":{"type":"line","color":"#ff2a4d","strokeWidth":2,"clip":false},"encoding":{"x":{"field":"t","type":"quantitative"},"y":{"field":"temp","type":"quantitative"}}}
]}
],"resolve":{"scale":{"y":"independent"},"axis":{"y":"independent"}}}
